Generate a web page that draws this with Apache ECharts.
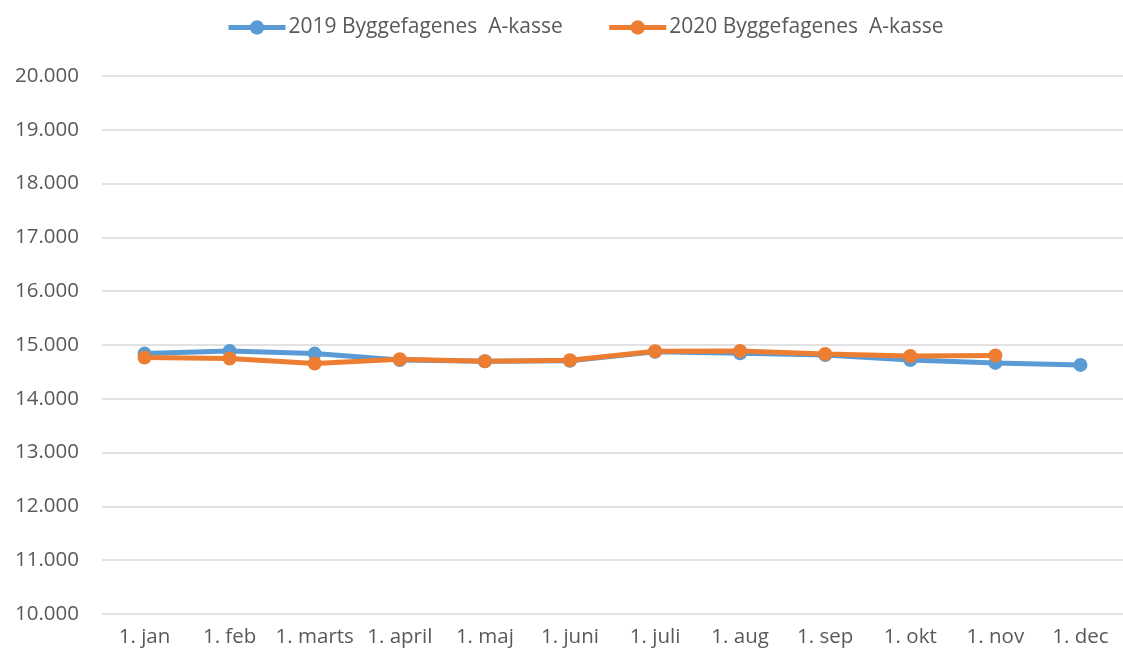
<!DOCTYPE html>
<html><head><meta charset="utf-8">
<script src="https://cdn.jsdelivr.net/npm/echarts@6/dist/echarts.min.js"></script>
<style>html,body{margin:0;padding:0;background:#fff}#c{width:1123px;height:659px}</style>
</head><body><div id="c"></div>
<script>
const categories = ['1. jan','1. feb','1. marts','1. april','1. maj','1. juni','1. juli','1. aug','1. sep','1. okt','1. nov','1. dec'];
const series2019 = [14840, 14889, 14840, 14722, 14698, 14705, 14875, 14846, 14815, 14722, 14667, 14630];
const series2020 = [14767, 14748, 14655, 14735, 14698, 14717, 14883, 14889, 14833, 14796, 14807, null];
const names = ['2019 Byggefagenes  A-kasse', '2020 Byggefagenes  A-kasse'];
const colors = ['#5B9BD5', '#ED7D31'];
const font = 'Open Sans';
const chart = echarts.init(document.getElementById('c'), null, {renderer:'canvas'});
function mk(name, data, color){
  return {name, type:'line', data, symbol:'circle', symbolSize:14, showSymbol:true,
    lineStyle:{width:5, color}, itemStyle:{color}, connectNulls:false, animation:false};
}
chart.setOption({
  animation:false,
  color: colors,
  legend:{top:12, left:221, itemWidth:57, itemHeight:18, itemGap:44,
    lineStyle:{width:5},
    textStyle:{fontFamily:font, fontSize:21, color:'#595959', padding:[0,0,0,-2]},
    data: names},
  grid:{left:102, top:76, width:1030, height:538, containLabel:false},
  xAxis:{type:'category', data:categories, boundaryGap:true,
    axisLine:{show:false}, axisTick:{show:false},
    axisLabel:{fontFamily:font, fontSize:20.5, color:'#595959', margin:13, interval:0}},
  yAxis:{type:'value', min:10000, max:20000, interval:1000,
    axisLine:{show:false}, axisTick:{show:false},
    splitLine:{lineStyle:{color:'#D9D9D9', width:1.5}},
    axisLabel:{fontFamily:font, fontSize:20.5, color:'#595959', margin:23,
      formatter: v => (v/1000).toFixed(3)}},
  series:[mk(names[0], series2019, colors[0]), mk(names[1], series2020, colors[1])]
});
</script></body></html>
